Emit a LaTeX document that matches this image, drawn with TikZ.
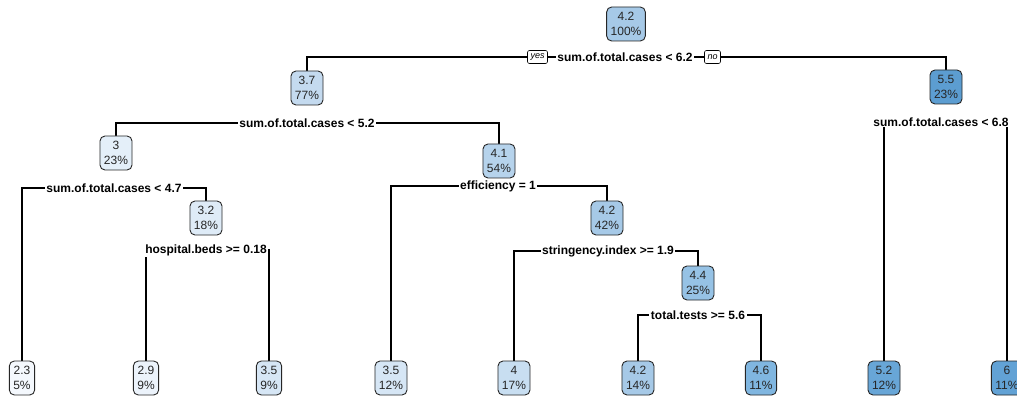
\documentclass[tikz,border=0pt]{standalone}
\usepackage{fontspec}
\setmainfont{Liberation Sans}
\usetikzlibrary{calc}
\pgfdeclarelayer{background}
\pgfsetlayers{background,main}

% fills of the regression-tree boxes, from low to high fitted value
\definecolor{v23}{RGB}{244,248,253}
\definecolor{v29}{RGB}{236,243,251}
\definecolor{v30}{RGB}{228,239,249}
\definecolor{v32}{RGB}{222,235,247}
\definecolor{v35}{RGB}{214,230,245}
\definecolor{v37}{RGB}{196,218,239}
\definecolor{v40}{RGB}{200,222,241}
\definecolor{v41}{RGB}{182,211,236}
\definecolor{v42}{RGB}{166,201,231}
\definecolor{v44}{RGB}{150,194,229}
\definecolor{v46}{RGB}{128,182,224}
\definecolor{v52}{RGB}{104,166,215}
\definecolor{v55}{RGB}{92,157,209}
\definecolor{v60}{RGB}{98,162,213}

\tikzset{
  treenode/.style={draw=black!85, line width=0.9pt, rounded corners=5pt,
    align=center, inner xsep=4pt, inner ysep=3pt, minimum height=34pt,
    font=\fontsize{12}{15}\selectfont, text=black!85},
  splitlabel/.style={fill=white, inner xsep=1.5pt, inner ysep=1pt,
    font=\fontsize{12}{14}\selectfont\bfseries},
  answer/.style={draw=black, fill=white, line width=0.6pt, rounded corners=2pt,
    inner xsep=3pt, inner ysep=1.5pt, minimum height=13pt,
    font=\fontsize{9}{10}\selectfont\itshape},
  branch/.style={draw=black, line width=1.3pt}
}

\begin{document}
\begin{tikzpicture}[x=1pt,y=-1pt]
\useasboundingbox (0,0) rectangle (1017,398);
\clip (0,0) rectangle (1017,398);

% internal nodes
\node[treenode, fill=v42] (n1)  at (626,24)  {4.2\\100\%};
\node[treenode, fill=v37] (n2)  at (307,88)  {3.7\\77\%};
\node[treenode, fill=v55] (n3)  at (946,87)  {5.5\\23\%};
\node[treenode, fill=v30] (n4)  at (116,153) {3\\23\%};
\node[treenode, fill=v41] (n5)  at (499,161) {4.1\\54\%};
\node[treenode, fill=v32] (n7)  at (206,218) {3.2\\18\%};
\node[treenode, fill=v42] (n11) at (607,218) {4.2\\42\%};
\node[treenode, fill=v44] (n13) at (698,283) {4.4\\25\%};

% leaves
\node[treenode, fill=v23] (n6)  at (22,378)   {2.3\\5\%};
\node[treenode, fill=v29] (n8)  at (146,378)  {2.9\\9\%};
\node[treenode, fill=v35] (n9)  at (269,378)  {3.5\\9\%};
\node[treenode, fill=v35] (n10) at (391,378)  {3.5\\12\%};
\node[treenode, fill=v40] (n12) at (514,378)  {4\\17\%};
\node[treenode, fill=v42] (n14) at (638,378)  {4.2\\14\%};
\node[treenode, fill=v46] (n15) at (761,378)  {4.6\\11\%};
\node[treenode, fill=v52] (n16) at (884,378)  {5.2\\12\%};
\node[treenode, fill=v60] (n17) at (1007,378) {6\\11\%};

% split rules
\node[splitlabel] (s1) at (625,57)  {sum.of.total.cases < 6.2};
\node[splitlabel] (s2) at (307,123) {sum.of.total.cases < 5.2};
\node[splitlabel] (s3) at (114,188) {sum.of.total.cases < 4.7};
\node[splitlabel] (s4) at (206,250) {hospital.beds >= 0.18};
\node[splitlabel] (s5) at (498,186) {efficiency = 1};
\node[splitlabel] (s6) at (608,251) {stringency.index >= 1.9};
\node[splitlabel] (s7) at (698,315) {total.tests >= 5.6};
\node[splitlabel] (s8) at (941,122) {sum.of.total.cases < 6.8};

\node[answer] (yes) at (537.5,57) {yes};
\node[answer] (no)  at (712.5,57) {no};

% branches run behind the labels
\begin{pgfonlayer}{background}
  \path[branch] (n2.north)  |- (s1.center);
  \path[branch] (n3.north)  |- (s1.center);
  \path[branch] (n4.north)  |- (s2.center);
  \path[branch] (n5.north)  |- (s2.center);
  \path[branch] (n6.north)  |- (s3.center);
  \path[branch] (n7.north)  |- (s3.center);
  \path[branch] (n8.north)  |- (s4.center);
  \path[branch] (n9.north)  |- (s4.center);
  \path[branch] (n10.north) |- (s5.center);
  \path[branch] (n11.north) |- (s5.center);
  \path[branch] (n12.north) |- (s6.center);
  \path[branch] (n13.north) |- (s6.center);
  \path[branch] (n14.north) |- (s7.center);
  \path[branch] (n15.north) |- (s7.center);
  \path[branch] (n16.north) |- (s8.center);
  \path[branch] (n17.north) |- (s8.center);
\end{pgfonlayer}
\end{tikzpicture}
\end{document}
